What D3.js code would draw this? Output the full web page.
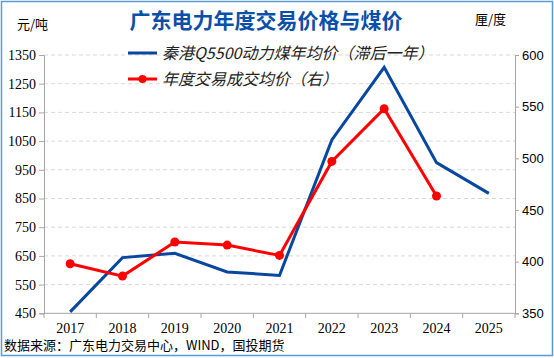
<!DOCTYPE html>
<html><head><meta charset="utf-8">
<script src="https://cdn.jsdelivr.net/npm/d3@7"></script>
<style>body{margin:0;background:#fff}svg{display:block}</style>
</head><body>
<script>
const years = ["2017","2018","2019","2020","2021","2022","2023","2024","2025"];
const coalPrice = [455, 644, 659, 594, 582, 1054, 1307, 975, 868];
const tradePrice = [398, 386, 419, 416, 406, 497, 548, 463.5, null];
const leftTicks = [450,550,650,750,850,950,1050,1150,1250,1350];
const rightTicks = [350,400,450,500,550,600];

const W=554,H=358;
const svg=d3.select("body").append("svg").attr("width",W).attr("height",H);
svg.append("rect").attr("x",1.5).attr("y",1.5).attr("width",W-3).attr("height",H-4)
  .attr("fill","#fff").attr("stroke","#5b9bd5").attr("stroke-width",1.5);

const x=d3.scaleBand().domain(years).range([44,515]);
const yL=d3.scaleLinear().domain([450,1350]).range([313.3,55]);
const yR=d3.scaleLinear().domain([350,600]).range([313.3,55]);

// gridlines
svg.append("g").selectAll("line").data(leftTicks.slice(1)).join("line")
  .attr("x1",44).attr("x2",515).attr("y1",d=>yL(d)).attr("y2",d=>yL(d))
  .attr("stroke","#d9d9d9").attr("stroke-dasharray","4,3");

// axes
const axL=svg.append("g").attr("transform","translate(44,0)")
  .call(d3.axisLeft(yL).tickValues(leftTicks).tickFormat(d3.format("d")).tickSize(5).tickPadding(3));
axL.selectAll("text").attr("font-family","Liberation Serif").attr("font-size",14).attr("fill","#000");
const axR=svg.append("g").attr("transform","translate(515,0)")
  .call(d3.axisRight(yR).tickValues(rightTicks).tickFormat(d3.format("d")).tickSize(4).tickPadding(3));
axR.selectAll("text").attr("font-family","Liberation Sans").attr("font-size",13).attr("fill","#000");
const axB=svg.append("g").attr("transform","translate(0,313.3)")
  .call(d3.axisBottom(x).tickSize(0).tickPadding(10));
axB.selectAll("text").attr("font-family","Liberation Serif").attr("font-size",14).attr("fill","#000");
[axL,axR,axB].forEach(a=>{a.selectAll("path,line").attr("stroke","#a6a6a6");});
axB.select(".domain").remove();
svg.append("line").attr("x1",44).attr("x2",515).attr("y1",313.3).attr("y2",313.3).attr("stroke","#a6a6a6");
svg.append("g").selectAll("line").data(years).join("line")
  .attr("x1",d=>x(d)).attr("x2",d=>x(d)).attr("y1",313.3).attr("y2",318).attr("stroke","#a6a6a6");
svg.append("line").attr("x1",515).attr("x2",515).attr("y1",313.3).attr("y2",318).attr("stroke","#a6a6a6");

const cx=d=>x(d)+x.bandwidth()/2;
// coal line
svg.append("path").datum(years.map((y,i)=>[y,coalPrice[i]]))
  .attr("fill","none").attr("stroke","#0847a0").attr("stroke-width",3)
  .attr("d",d3.line().x(d=>cx(d[0])).y(d=>yL(d[1])));
// trade line
const td=years.map((y,i)=>[y,tradePrice[i]]).filter(d=>d[1]!=null);
svg.append("path").datum(td).attr("fill","none").attr("stroke","#ff0000").attr("stroke-width",3)
  .attr("d",d3.line().x(d=>cx(d[0])).y(d=>yR(d[1])));
svg.append("g").selectAll("circle").data(td).join("circle")
  .attr("cx",d=>cx(d[0])).attr("cy",d=>yR(d[1])).attr("r",4.5).attr("fill","#ff0000");

// title & labels
svg.append("text").attr("x",266).attr("y",28).attr("text-anchor","middle")
  .attr("font-family","Noto Sans CJK SC").attr("font-weight","bold").attr("font-size",21)
  .attr("fill","#0a4fa8").text("广东电力年度交易价格与煤价");
svg.append("text").attr("x",17).attr("y",29).attr("font-family","Noto Sans CJK SC")
  .attr("font-size",13).attr("fill","#000").text("元/吨");
svg.append("text").attr("x",475).attr("y",24).attr("font-family","Noto Sans CJK SC")
  .attr("font-size",13).attr("fill","#000").text("厘/度");

// legend
const lg=[{t:"秦港Q5500动力煤年均价（滞后一年）",c:"#0847a0",dot:false,y:53},
          {t:"年度交易成交均价（右）",c:"#ff0000",dot:true,y:79}];
lg.forEach(l=>{
  svg.append("line").attr("x1",128).attr("x2",157).attr("y1",l.y).attr("y2",l.y)
    .attr("stroke",l.c).attr("stroke-width",3);
  if(l.dot) svg.append("circle").attr("cx",142.5).attr("cy",l.y).attr("r",4).attr("fill",l.c);
  svg.append("text").attr("x",162).attr("y",l.y+6).attr("font-family","Noto Sans CJK SC")
    .attr("font-size",16).attr("font-style","italic").attr("fill","#222").text(l.t);
});

svg.append("text").attr("x",4).attr("y",350).attr("font-family","Noto Sans CJK SC")
  .attr("font-size",13).attr("fill","#000").text("数据来源：广东电力交易中心，WIND，国投期货");
</script>
</body></html>
